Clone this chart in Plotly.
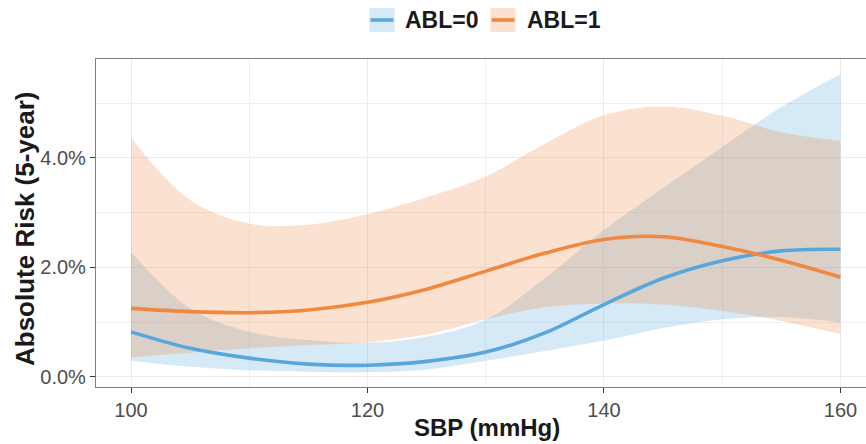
import plotly.graph_objects as go

# ---- data (values in %) ----
sbp = [100, 105, 110, 115, 120, 125, 130, 135, 140, 145, 150, 155, 160]

abl0_est = [0.82, 0.52, 0.34, 0.23, 0.21, 0.28, 0.45, 0.80, 1.32, 1.80, 2.12, 2.30, 2.33]
abl0_lo = [0.29, 0.18, 0.12, 0.09, 0.08, 0.13, 0.29, 0.47, 0.66, 0.89, 1.05, 1.09, 0.99]
abl0_hi = [2.28, 1.25, 0.82, 0.67, 0.62, 0.73, 1.04, 1.80, 2.68, 3.45, 4.20, 4.93, 5.53]

abl1_est = [1.25, 1.19, 1.17, 1.22, 1.36, 1.60, 1.93, 2.26, 2.51, 2.56, 2.38, 2.13, 1.82]
abl1_lo = [0.36, 0.44, 0.52, 0.58, 0.63, 0.77, 1.05, 1.27, 1.34, 1.32, 1.20, 1.02, 0.78]
abl1_hi = [4.37, 3.23, 2.80, 2.78, 2.97, 3.28, 3.66, 4.26, 4.78, 4.94, 4.77, 4.47, 4.31]

labels = ["ABL=0", "ABL=1"]
x_ticks = [100, 120, 140, 160]
y_ticks = [0, 2, 4]
y_ticktext = ["%.1f%%" % v for v in y_ticks]

BLUE = "#57A7DD"
ORANGE = "#F0883F"
BLUE_F = "rgba(87,167,221,0.25)"
ORANGE_F = "rgba(240,136,63,0.25)"
FONT = "Liberation Sans, Arial, sans-serif"

fig = go.Figure()

def ribbon(lo, hi, fill):
    fig.add_trace(go.Scatter(x=sbp, y=hi, mode="lines", line=dict(width=0, shape="spline"),
                             hoverinfo="skip", showlegend=False))
    fig.add_trace(go.Scatter(x=sbp, y=lo, mode="lines", line=dict(width=0, shape="spline"),
                             fill="tonexty", fillcolor=fill, hoverinfo="skip", showlegend=False))

ribbon(abl0_lo, abl0_hi, BLUE_F)
ribbon(abl1_lo, abl1_hi, ORANGE_F)

fig.add_trace(go.Scatter(x=sbp, y=abl0_est, mode="lines", name=labels[0],
                         line=dict(color=BLUE, width=3.6, shape="spline"), showlegend=False))
fig.add_trace(go.Scatter(x=sbp, y=abl1_est, mode="lines", name=labels[1],
                         line=dict(color=ORANGE, width=3.6, shape="spline"), showlegend=False))

# ---- layout geometry (pixels) ----
L, R, T, B = 96, 0, 59, 57
PW = 866 - L - R
PH = 444 - T - B

def px2paper_x(px):
    return (px - L) / float(PW)

def py2paper_y(py):
    return (444 - B - py) / float(PH)

shapes = []
annotations = []
keys = [(369.5, 394.5, BLUE_F, BLUE, 403, labels[0]),
        (490.5, 515.5, ORANGE_F, ORANGE, 525, labels[1])]
for x0, x1, fc, lc, tx, lab in keys:
    shapes.append(dict(type="rect", xref="paper", yref="paper",
                       x0=px2paper_x(x0), x1=px2paper_x(x1),
                       y0=py2paper_y(32), y1=py2paper_y(8),
                       fillcolor=fc, line=dict(width=0), layer="above"))
    shapes.append(dict(type="line", xref="paper", yref="paper",
                       x0=px2paper_x(x0 + 1), x1=px2paper_x(x1 - 1),
                       y0=py2paper_y(20), y1=py2paper_y(20),
                       line=dict(color=lc, width=3.6), layer="above"))
    annotations.append(dict(xref="paper", yref="paper", x=px2paper_x(tx), y=py2paper_y(20.5),
                            xanchor="left", yanchor="middle", showarrow=False,
                            text="<b>%s</b>" % lab,
                            font=dict(family=FONT, size=23, color="#1A1A1A")))

# axis titles
annotations.append(dict(xref="paper", yref="paper", x=px2paper_x(486.5), y=py2paper_y(427),
                        xanchor="center", yanchor="middle", showarrow=False,
                        text="<b>SBP (mmHg)</b>",
                        font=dict(family=FONT, size=24, color="#1A1A1A")))
annotations.append(dict(xref="paper", yref="paper", x=px2paper_x(25), y=py2paper_y(229),
                        xanchor="center", yanchor="middle", showarrow=False, textangle=-90,
                        text="<b>Absolute Risk (5-year)</b>",
                        font=dict(family=FONT, size=26, color="#1A1A1A")))

fig.update_layout(
    width=866, height=444,
    margin=dict(l=L, r=R, t=T, b=B, autoexpand=False),
    paper_bgcolor="white", plot_bgcolor="white",
    font=dict(family=FONT, color="#4D4D4D"),
    shapes=shapes, annotations=annotations,
    showlegend=False,
)

fig.update_xaxes(
    range=[97.04, 162.16], automargin=False,
    tickvals=x_ticks,
    ticks="outside", ticklen=5, tickwidth=1, tickcolor="#333333",
    tickfont=dict(family=FONT, size=20, color="#4D4D4D"),
    showgrid=True, gridcolor="#EBEBEB", gridwidth=1.2,
    minor=dict(dtick=10, tick0=100, showgrid=True, gridcolor="#EFEFEF", gridwidth=0.8, ticks=""),
    showline=True, linecolor="#808080", linewidth=1.2, mirror=True,
    zeroline=False,
)
fig.update_yaxes(
    range=[-0.188, 5.808], automargin=False,
    tickvals=y_ticks, ticktext=y_ticktext,
    ticks="outside", ticklen=5, tickwidth=1, tickcolor="#333333",
    tickfont=dict(family=FONT, size=20, color="#4D4D4D"),
    showgrid=True, gridcolor="#EBEBEB", gridwidth=1.2,
    minor=dict(dtick=1, tick0=0, showgrid=True, gridcolor="#EFEFEF", gridwidth=0.8, ticks=""),
    showline=True, linecolor="#808080", linewidth=1.2, mirror=False,
    zeroline=False,
)

fig.write_html("out.html", config={"displayModeBar": False},
               post_script="document.body.style.margin='0';document.body.style.padding='0';")
